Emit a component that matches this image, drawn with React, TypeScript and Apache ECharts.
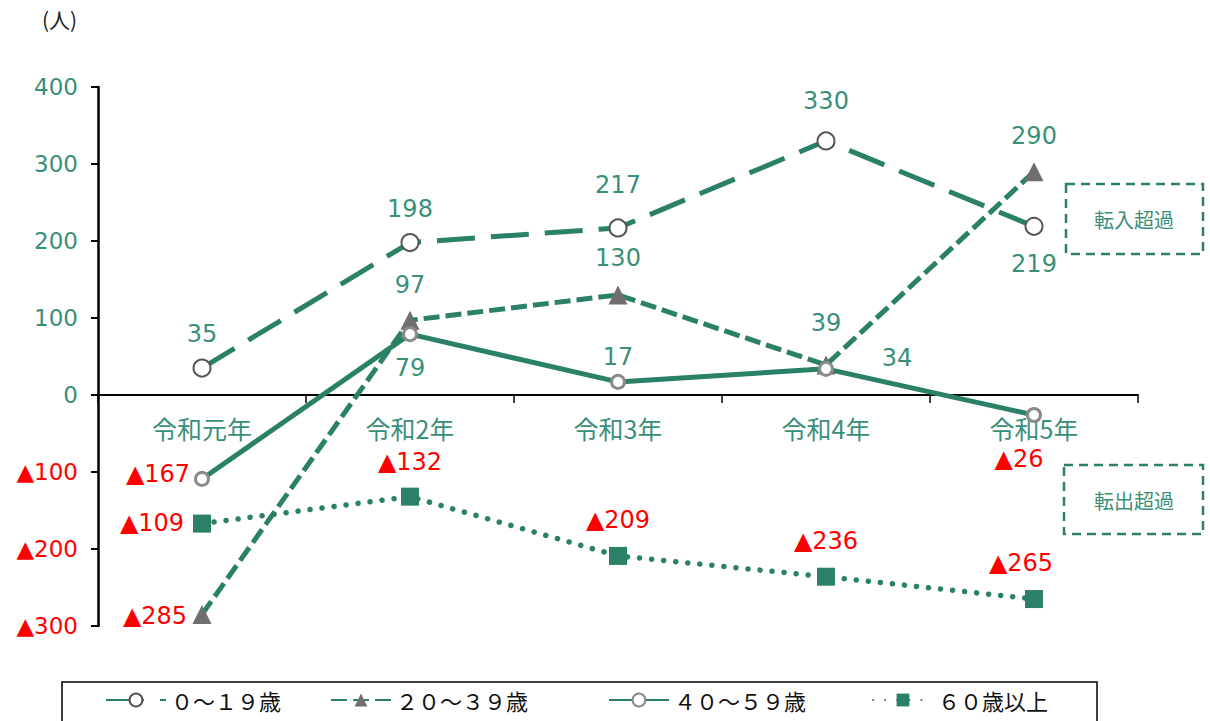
import React, { useEffect, useRef } from "react";
import * as echarts from "echarts";

const categories = ["令和元年", "令和2年", "令和3年", "令和4年", "令和5年"];
const seriesNames = ["０～１９歳", "２０～３９歳", "４０～５９歳", "６０歳以上"];
const age0to19 = [35, 198, 217, 330, 219];
const age20to39 = [-285, 97, 130, 39, 290];
const age40to59 = [-109, 79, 17, 34, -26];
const age60plus = [-167, -132, -209, -236, -265];
const yTicks = { min: -300, max: 400, interval: 100 };

// label placement (pixel offsets from each point)
const off0 = [[0, -34], [0, -34], [0, -43], [0, -40], [0, 38]];
const off1 = [[-47, 2], [0, -35], [0, -37], [0, -42], [0, -36]];
const off2 = [[-50, 44], [0, 34], [0, -25], [71, -11], [-15, 44]];
const off3 = [[-44, -50], [0, -35], [0, -36], [0, -36], [-13, -36]];

const TEAL = "#2b8068";
const TEXT_TEAL = "#3a8f7a";
const RED = "#ff0000";
const FONT = "'Noto Sans CJK JP', 'Noto Sans', sans-serif";
const NUMFONT = "'DejaVu Sans', 'Noto Sans CJK JP', sans-serif";

const GRID_TOP = 87;
const GRID_H = 539;

const fmtVal = (v: number) => (v < 0 ? `{neg|▲${Math.abs(v)}}` : `{pos|${v}}`);

const labelRich = {
  neg: { color: RED, fontSize: 24, fontFamily: NUMFONT },
  pos: { color: TEXT_TEAL, fontSize: 24, fontFamily: NUMFONT },
};

const buildData = (vals: number[], offs: number[][]) =>
  vals.map((v, i) => ({
    value: v,
    label: { offset: offs[i] },
  }));

export default function App() {
  const ref = useRef<HTMLDivElement>(null);
  useEffect(() => {
    if (!ref.current) return;
    const chart = echarts.init(ref.current, null, { renderer: "svg" });
    const commonLabel = {
      show: true,
      position: "inside",
      formatter: (p: any) => fmtVal(p.value),
      rich: labelRich,
    };
    const legendCommon = {
      top: 684,
      itemWidth: 60,
      itemHeight: 16,
      textStyle: { fontSize: 22, color: "#111", fontFamily: FONT },
      selectedMode: false,
    };
    // distance of the zero line above the grid bottom
    const zeroShift = (GRID_H * (0 - yTicks.min)) / (yTicks.max - yTicks.min);
    chart.setOption({
      animation: false,
      textStyle: { fontFamily: FONT },
      grid: { left: 98, top: GRID_TOP, width: 1040, height: GRID_H, containLabel: false },
      xAxis: {
        type: "category",
        data: categories,
        offset: -zeroShift,
        axisLine: { onZero: false, lineStyle: { color: "#000", width: 2 } },
        axisTick: { show: true, length: 8, lineStyle: { color: "#000", width: 1.5 } },
        axisLabel: { color: TEXT_TEAL, fontSize: 25, margin: 20, fontFamily: FONT },
      },
      yAxis: {
        type: "value",
        min: yTicks.min,
        max: yTicks.max,
        interval: yTicks.interval,
        splitLine: { show: false },
        axisLine: { show: true, lineStyle: { color: "#000", width: 2.5 } },
        axisTick: { show: true, length: 7, lineStyle: { color: "#000", width: 2 } },
        axisLabel: {
          margin: 20,
          formatter: (v: number) => fmtVal(v),
          rich: {
            neg: { color: RED, fontSize: 23, fontFamily: NUMFONT },
            pos: { color: TEXT_TEAL, fontSize: 23, fontFamily: NUMFONT },
          },
        },
      },
      legend: [
        { ...legendCommon, left: 100, data: [seriesNames[0]] },
        { ...legendCommon, left: 325, data: [seriesNames[1]] },
        { ...legendCommon, left: 603, data: [seriesNames[2]] },
        { ...legendCommon, left: 867, data: [seriesNames[3]] },
      ],
      graphic: [
        {
          type: "text",
          left: 42,
          top: 8,
          style: { text: "(人)", fontSize: 21, fill: "#222", fontFamily: FONT },
        },
        {
          type: "rect",
          shape: { x: 62, y: 682, width: 1035, height: 60 },
          style: { fill: "none", stroke: "#000", lineWidth: 1.5 },
        },
        {
          type: "rect",
          shape: { x: 1066, y: 184, width: 137, height: 70 },
          style: { fill: "none", stroke: TEAL, lineWidth: 2.5, lineDash: [9, 6] },
        },
        {
          type: "text",
          x: 1134,
          y: 219,
          style: { text: "転入超過", fontSize: 20, fill: TEXT_TEAL, align: "center", verticalAlign: "middle", fontFamily: FONT },
        },
        {
          type: "rect",
          shape: { x: 1064, y: 465, width: 139, height: 69 },
          style: { fill: "none", stroke: TEAL, lineWidth: 2.5, lineDash: [9, 6] },
        },
        {
          type: "text",
          x: 1134,
          y: 500,
          style: { text: "転出超過", fontSize: 20, fill: TEXT_TEAL, align: "center", verticalAlign: "middle", fontFamily: FONT },
        },
      ],
      series: [
        {
          name: seriesNames[0],
          type: "line",
          data: buildData(age0to19, off0),
          symbol: "circle",
          symbolSize: 17,
          z: 3,
          lineStyle: { color: TEAL, width: 5, type: [38, 16] },
          itemStyle: { color: "#fff", borderColor: "#555", borderWidth: 2 },
          label: commonLabel,
        },
        {
          name: seriesNames[1],
          type: "line",
          data: buildData(age20to39, off1),
          symbol: "triangle",
          symbolSize: 19,
          z: 3,
          lineStyle: { color: TEAL, width: 5, type: [16, 6] },
          itemStyle: { color: "#6f6f6f" },
          label: commonLabel,
        },
        {
          name: seriesNames[2],
          type: "line",
          data: buildData(age40to59, off2),
          symbol: "circle",
          symbolSize: 13,
          z: 4,
          lineStyle: { color: TEAL, width: 5 },
          itemStyle: { color: "#fff", borderColor: "#8a8a8a", borderWidth: 3 },
          label: commonLabel,
        },
        {
          name: seriesNames[3],
          type: "line",
          data: buildData(age60plus, off3),
          symbol: "rect",
          symbolSize: 18,
          z: 3,
          lineStyle: { color: TEAL, width: 5.5, type: [0.1, 12], cap: "round" },
          itemStyle: { color: TEAL },
          label: commonLabel,
        },
      ],
    });
    return () => chart.dispose();
  }, []);
  return (
    <div
      ref={ref}
      style={{ position: "absolute", left: 0, top: 0, width: 1210, height: 721, background: "#fff" }}
    />
  );
}
